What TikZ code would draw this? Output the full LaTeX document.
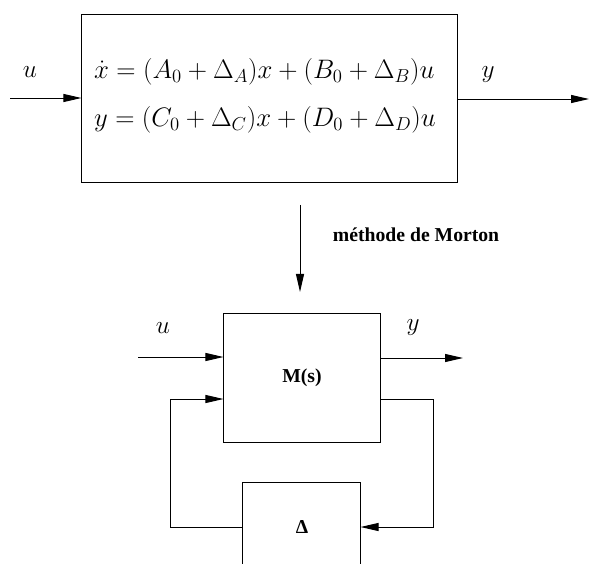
\documentclass[tikz,border=0pt]{standalone}
\usepackage{fix-cm}
\usepackage{fontspec}
\setmainfont{Liberation Serif}
\usetikzlibrary{arrows.meta}
\begin{document}
\begin{tikzpicture}[x=0.025cm, y=-0.025cm,
  block/.style={draw, line width=0.7pt, inner sep=0pt},
  sig/.style={line width=0.7pt, -{Triangle[length=4.5mm, width=2mm]}},
  lab/.style={font=\fontsize{18}{22}\selectfont}]
\useasboundingbox (0,0) rectangle (589,563);
\clip (0,0) rectangle (589,563);

% Draw uncertain system
\node[block, minimum width=9.375cm, minimum height=4.175cm] (sys) at (269.5,98.5) {};
\node[align=left, inner sep=1pt, font=\fontsize{19}{34}\selectfont] (eqs) at (265,96)
  {$\dot x = (A_0 + \Delta_A)x + (B_0 + \Delta_B)u$\\
   $y = (C_0 + \Delta_C)x + (D_0 + \Delta_D)u$};

% Input and output
\coordinate (uin) at (10,98);
\coordinate (yout) at (589,99);
\draw[sig] (uin) -- (uin -| sys.west);
\draw[sig] (sys.east |- yout) -- (yout);
\node[lab] (ulab) at (30,72) {$u$};
\node[lab] (ylab) at (488,75) {$y$};

% Transformation arrow
\coordinate (mtop) at (300,205);
\coordinate (mbot) at (300,292);
\draw[sig] (mtop) -- (mbot);
\node[anchor=west, font=\bfseries\fontsize{14}{17}\selectfont] (meth) at (328,235) {méthode de Morton};

% M-Delta structure
\node[block, minimum width=3.9cm, minimum height=3.2cm, font=\bfseries\fontsize{14}{17}\selectfont] (M) at (302,378) {M(s)};
\node[block, minimum width=2.925cm, minimum height=2.925cm] (D) at (301.5,541.5) {};
\node[font=\bfseries\fontsize{14}{17}\selectfont] (dlab) at (302,527) {Δ};

\coordinate (u2) at (138,357);
\coordinate (y2) at (463,358);
\draw[sig] (u2) -- (u2 -| M.west);
\draw[sig] (M.east |- y2) -- (y2);
\node[lab] (u2lab) at (163,328) {$u$};
\node[lab] (y2lab) at (413,328) {$y$};

% Feedback loop
\coordinate (fr) at (433,399);
\coordinate (fl) at (170,399);
\coordinate (dy) at (300,527);
\draw[sig] (M.east |- fr) -- (fr) |- (D.east |- dy);
\draw[sig] (D.west |- dy) -| (fl) -- (M.west |- fl);
\end{tikzpicture}
\end{document}
